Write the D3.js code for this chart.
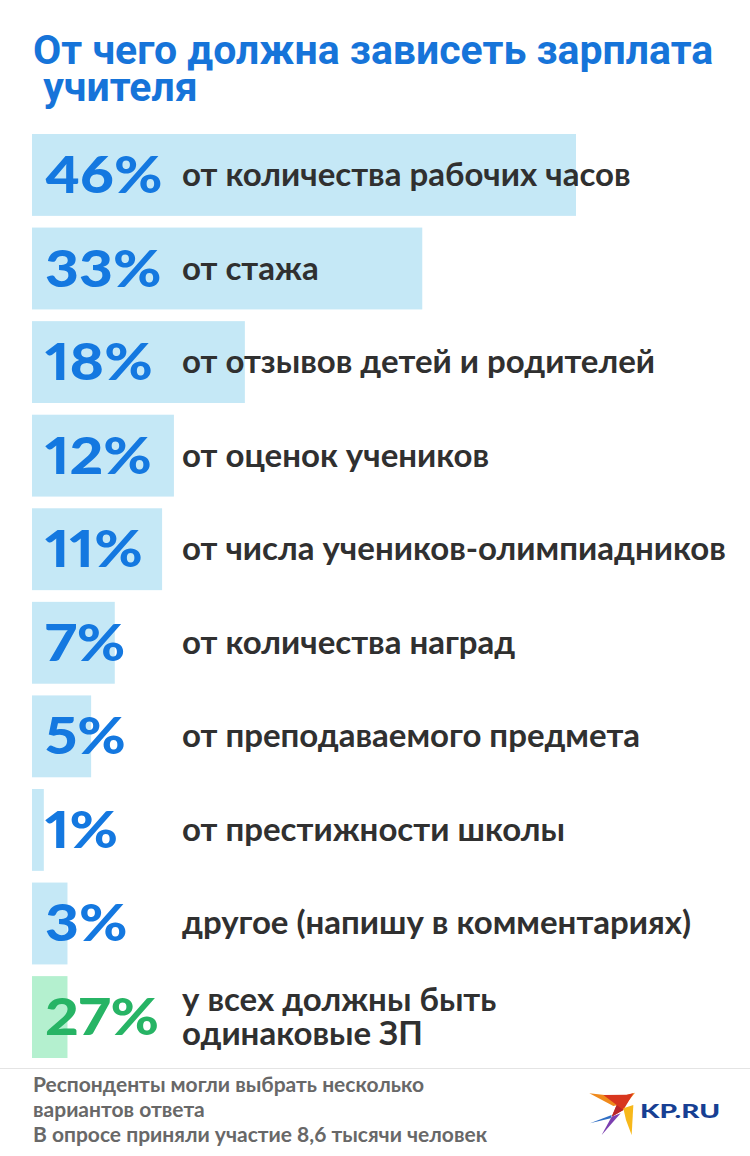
<!DOCTYPE html>
<html>
<head>
<meta charset="utf-8">
<script src="https://cdn.jsdelivr.net/npm/d3@7"></script>
<style>
  body { margin: 0; background: #fff; }
  svg { display: block; }
</style>
</head>
<body>
<div id="chart"></div>
<script>
const titleLines = ["От чего должна зависеть зарплата", " учителя"];
const categories = [
  ["от количества рабочих часов"],
  ["от стажа"],
  ["от отзывов детей и родителей"],
  ["от оценок учеников"],
  ["от числа учеников-олимпиадников"],
  ["от количества наград"],
  ["от преподаваемого предмета"],
  ["от престижности школы"],
  ["другое (напишу в комментариях)"],
  ["у всех должны быть", "одинаковые ЗП"]
];
const percents = [46, 33, 18, 12, 11, 7, 5, 1, 3, 27];
// bar lengths as drawn in the picture (the last bar is drawn short)
const barLengths = [46, 33, 18, 12, 11, 7, 5, 1, 3, 3];
const highlight = [false, false, false, false, false, false, false, false, false, true];
const footnotes = [
  "Респонденты могли выбрать несколько",
  "вариантов ответа",
  "В опросе приняли участие 8,6 тысячи человек"
];

const W = 750, H = 1156;
const svg = d3.select("#chart").append("svg")
  .attr("width", W)
  .attr("height", H);

svg.append("rect").attr("width", W).attr("height", H).attr("fill", "#fff");

// title
svg.append("text")
  .style("font-family", "Roboto, sans-serif")
  .style("font-weight", 700)
  .style("font-size", "41px")
  .style("fill", "#1674d9")
  .selectAll("tspan")
  .data(titleLines)
  .enter()
  .append("tspan")
  .attr("x", 33)
  .attr("y", (d, i) => 64 + i * 37)
  .attr("xml:space", "preserve")
  .text(d => d);

const rows = d3.range(percents.length);

const x = d3.scaleLinear()
  .domain([0, 46])
  .range([32, 576]);

const y = d3.scaleBand()
  .domain(rows)
  .range([134, 1058])
  .paddingInner(0.125)
  .paddingOuter(0);

const g = svg.append("g");

g.selectAll(".bar")
  .data(rows)
  .enter()
  .append("rect")
  .attr("class", "bar")
  .attr("x", x(0))
  .attr("y", i => y(i))
  .attr("width", i => x(barLengths[i]) - x(0))
  .attr("height", y.bandwidth())
  .attr("fill", i => highlight[i] ? "#b4f0cf" : "#c5e8f6");

g.selectAll(".pct")
  .data(rows)
  .enter()
  .append("text")
  .attr("class", "pct")
  .attr("transform", i => `translate(45, ${y(i) + y.bandwidth() / 2 + 18}) scale(1.15, 1)`)
  .style("font-family", "Lato, sans-serif")
  .style("font-weight", 900)
  .style("font-size", "51px")
  .style("font-variant-numeric", "proportional-nums")
  .style("font-feature-settings", "'pnum' 1")
  .style("fill", i => highlight[i] ? "#27b465" : "#1478e0")
  .text(i => percents[i] + "%");

const labels = g.selectAll(".label")
  .data(rows)
  .enter()
  .append("text")
  .attr("class", "label")
  .style("font-family", "Lato, sans-serif")
  .style("font-weight", 700)
  .style("font-size", "33px")
  .style("fill", "#303030");

labels.each(function(i) {
  const lines = categories[i];
  const cy = y(i) + y.bandwidth() / 2;
  const lh = 34;
  const first = cy + 11 - (lines.length - 1) * lh / 2;
  d3.select(this).selectAll("tspan")
    .data(lines)
    .enter()
    .append("tspan")
    .attr("x", 182)
    .attr("y", (d, k) => first + k * lh)
    .text(d => d);
});

// separator
svg.append("line")
  .attr("x1", 0)
  .attr("x2", W)
  .attr("y1", 1068.5)
  .attr("y2", 1068.5)
  .attr("stroke", "#e4e4e4")
  .attr("stroke-width", 1);

// footnotes
svg.append("text")
  .style("font-family", "Lato, sans-serif")
  .style("font-weight", 700)
  .style("font-size", "21px")
  .style("fill", "#686868")
  .selectAll("tspan")
  .data(footnotes)
  .enter()
  .append("tspan")
  .attr("x", 33)
  .attr("y", (d, i) => 1092 + i * 25)
  .text(d => d);

// KP.RU logo
const logo = svg.append("g").attr("transform", "translate(580, 1080)");
const sc = 1 / 3;
const shapes = [
  { fill: "#f08a1c", pts: [[28, 40], [120, 50], [165, 38], [140, 70], [100, 78]] },
  { fill: "#d8361e", pts: [[70, 45], [140, 44], [160, 40], [130, 90], [95, 110], [110, 75]] },
  { fill: "#b8262a", pts: [[110, 75], [130, 90], [95, 110]] },
  { fill: "#f7b81b", pts: [[130, 85], [160, 75], [155, 165], [138, 120]] },
  { fill: "#7b3fb0", pts: [[95, 110], [122, 100], [65, 165]] },
  { fill: "#2f6fc4", pts: [[30, 130], [95, 105], [92, 115]] }
];
logo.selectAll("polygon")
  .data(shapes)
  .enter()
  .append("polygon")
  .attr("points", d => d.pts.map(p => [p[0] * sc, p[1] * sc].join(",")).join(" "))
  .attr("fill", d => d.fill);

logo.append("text")
  .attr("x", 60)
  .attr("y", 37.5)
  .attr("textLength", 80)
  .attr("lengthAdjust", "spacingAndGlyphs")
  .style("font-family", "Lato, sans-serif")
  .style("font-weight", 900)
  .style("font-size", "18px")
  .style("fill", "#173f93")
  .text("KP.RU");
</script>
</body>
</html>
